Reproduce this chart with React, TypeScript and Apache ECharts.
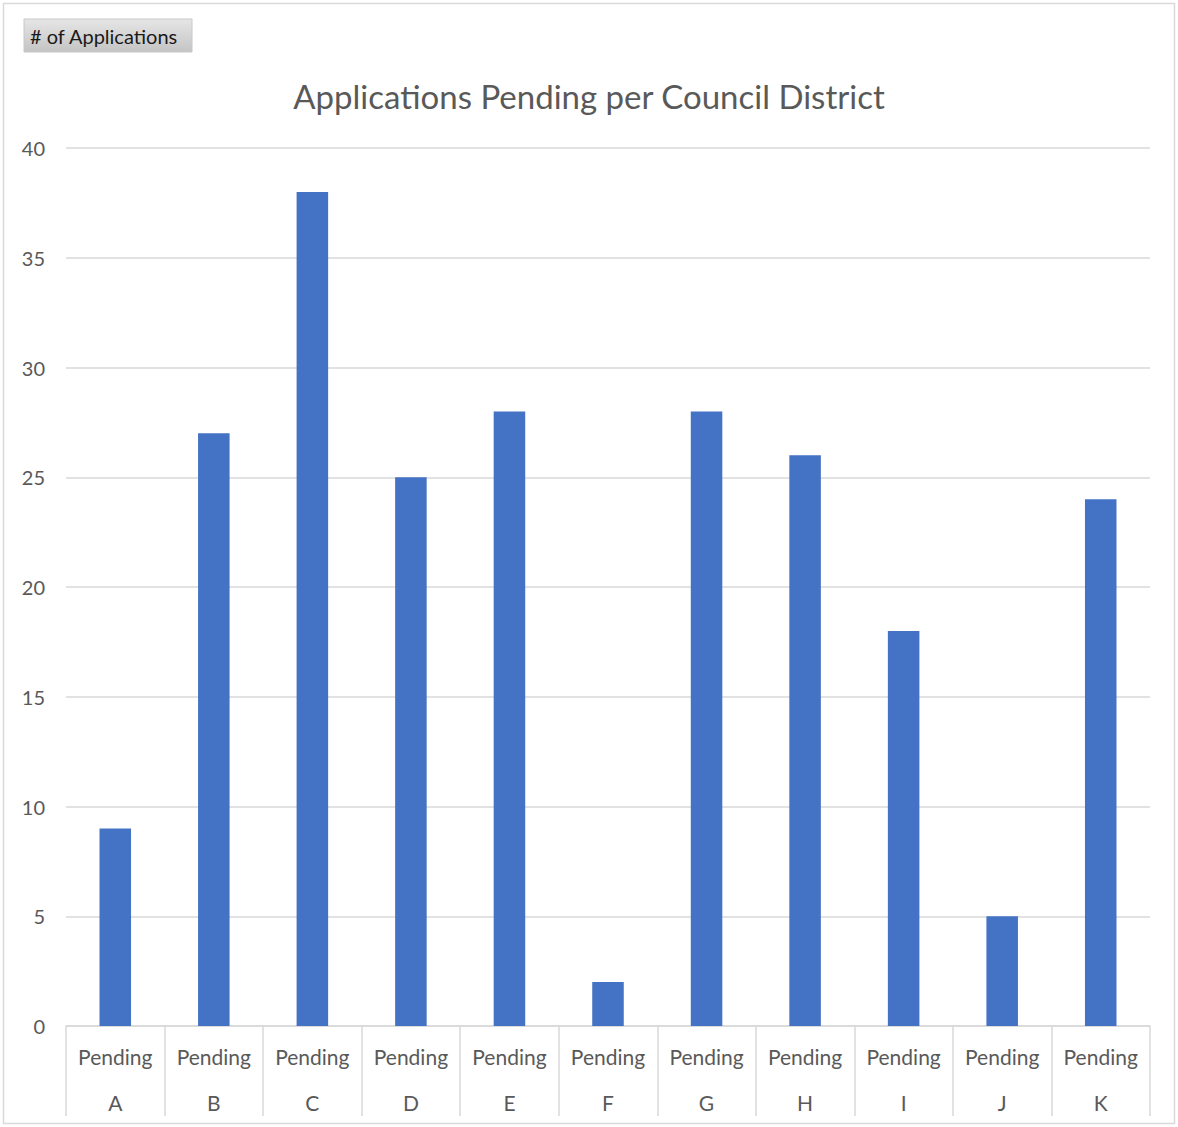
import React, { useEffect, useRef } from "react";
import * as echarts from "echarts";

const districts = ["A", "B", "C", "D", "E", "F", "G", "H", "I", "J", "K"];
const statusLabel = "Pending";
const pendingCounts = [9, 27, 38, 25, 28, 2, 28, 26, 18, 5, 24];
const titleText = "Applications Pending per Council District";
const fieldButtonText = "# of Applications";

export default function App() {
  const ref = useRef<HTMLDivElement>(null);
  useEffect(() => {
    document.body.style.margin = "0";
    const chart = echarts.init(ref.current!, null, { renderer: "svg" });
    const font = "Lato, 'Noto Sans', sans-serif";
    chart.setOption({
      animation: false,
      backgroundColor: "#ffffff",
      title: {
        text: titleText,
        left: "center",
        top: 74,
        textStyle: { color: "#595959", fontSize: 33, fontWeight: "normal", fontFamily: font },
      },
      graphic: [
        {
          type: "rect",
          shape: { x: 3.5, y: 3.5, width: 1171, height: 1120 },
          style: { fill: "none", stroke: "#d9d9d9", lineWidth: 1.5 },
          silent: true,
        },
        {
          type: "rect",
          shape: { x: 24, y: 19, width: 168, height: 33 },
          style: {
            fill: new echarts.graphic.LinearGradient(0, 0, 0, 1, [
              { offset: 0, color: "#e6e6e6" },
              { offset: 1, color: "#c4c4c4" },
            ]),
            stroke: "#c8c8c8",
            lineWidth: 1,
          },
        },
        {
          type: "text",
          x: 30,
          y: 36,
          style: {
            text: fieldButtonText,
            fill: "#1a1a1a",
            fontSize: 20,
            fontFamily: font,
            verticalAlign: "middle",
          },
        },
      ],
      grid: { left: 66, right: 28, top: 148, bottom: 101 },
      xAxis: {
        type: "category",
        data: districts,
        axisLine: { show: true, lineStyle: { color: "#d9d9d9", width: 1.5 } },
        axisTick: { show: true, length: 90, alignWithLabel: false, lineStyle: { color: "#d9d9d9", width: 1.5 } },
        axisLabel: {
          margin: 7,
          formatter: (v: string) => `${statusLabel}\n${v}`,
          color: "#595959",
          fontSize: 21,
          lineHeight: 46,
          fontFamily: font,
        },
      },
      yAxis: {
        type: "value",
        min: 0,
        max: 40,
        interval: 5,
        axisLine: { show: false },
        axisTick: { show: false },
        splitLine: { lineStyle: { color: "#d9d9d9", width: 1.5 } },
        axisLabel: { color: "#595959", fontSize: 20, margin: 21, fontFamily: font },
      },
      series: [
        {
          type: "bar",
          data: pendingCounts,
          barWidth: "32%",
          itemStyle: { color: "#4472c4" },
        },
      ],
    });
    return () => chart.dispose();
  }, []);
  return <div ref={ref} style={{ width: 1178, height: 1127 }} />;
}
